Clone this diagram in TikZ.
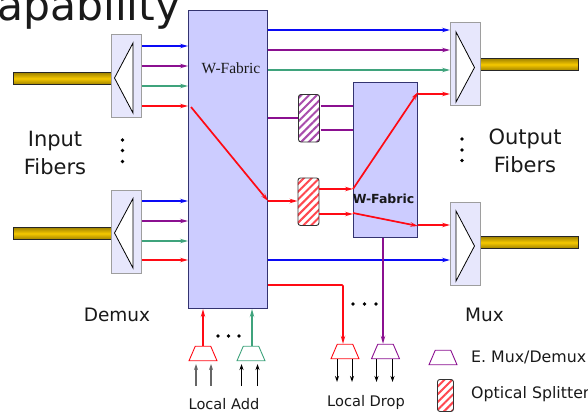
\documentclass[tikz,border=0pt]{standalone}
\usepackage{fontspec}
\setmainfont{DejaVu Sans}
\newfontfamily\serifface{Liberation Serif}
\usetikzlibrary{arrows.meta,patterns.meta,shapes.geometric,calc}
\definecolor{cblue}{HTML}{0A0AF5}
\definecolor{cpurp}{HTML}{8B1090}
\definecolor{cgreen}{HTML}{3FA37C}
\definecolor{cred}{HTML}{FF0A14}
\definecolor{fabfill}{HTML}{CCCCFF}
\definecolor{boxfill}{HTML}{E7E7FC}
\definecolor{gold}{HTML}{F5C800}
\newcommand{\fsz}[1]{\fontsize{#1}{#1}\selectfont}
\newcommand{\ph}{\phantom{\rule{3pt}{3pt}}}
\tikzset{
  x=1pt,y=-1pt,
  fabric/.style={draw=black!70!blue!80,fill=fabfill,line width=1.1pt,inner sep=0pt,anchor=north west},
  muxbox/.style={draw=black!38,fill=boxfill,line width=1.1pt,inner sep=0pt,anchor=north west,minimum width=30pt,minimum height=83pt},
  fiber/.style={draw=black!85,line width=0.9pt,top color=black!35!gold,bottom color=black!35!gold,middle color=gold,inner sep=0pt,anchor=north west,minimum width=98pt,minimum height=12pt},
  wedge/.style={draw=black,line width=0.8pt,fill=white,line join=miter},
  sig/.style={line width=1.7pt,-{Stealth[length=8pt,width=4.5pt,inset=3pt]}},
  plain/.style={line width=1.7pt},
  thin arrow/.style={black,line width=1pt,-{Stealth[length=6pt,width=4pt]}},
  trap/.style={trapezium,trapezium stretches=true,trapezium left angle=68,trapezium right angle=68,inner sep=0pt,minimum width=28pt,minimum height=14.5pt,line width=0.9pt,draw,anchor=center},
  split/.style={draw=black!80,rounded corners=2.5pt,line width=0.9pt,inner sep=0pt,anchor=north west,minimum width=21pt,minimum height=47.5pt,preaction={fill=white},
    pattern={Lines[angle=45,distance=5.5pt,line width=2pt]},pattern color=#1},
  dot/.style={circle,fill=black,inner sep=0pt,minimum size=3.6pt},
  lab/.style={text=black!90,inner sep=0pt},
}
\begin{document}
\begin{tikzpicture}
\useasboundingbox (0,0) rectangle (588,412);
\clip (0,0) rectangle (588,412);
% title
\node[lab,anchor=base west,font=\fsz{42.5}] (title) at (-3,21) {apability};
% fibers
\node[fiber] (fibA) at (13,72) {};
\node[fiber] (fibB) at (13,227) {};
\node[fiber] (fibC) at (480,58) {};
\node[fiber] (fibD) at (480,236) {};
% demux / mux
\node[muxbox] (dmA) at (111,34) {};
\node[muxbox] (dmB) at (111,189.5) {};
\node[muxbox] (mxA) at (450,22) {};
\node[muxbox] (mxB) at (450,201.5) {};
\draw[wedge] (133,43) -- (114.5,78) -- (133,113) -- cycle;
\draw[wedge] (133,198.5) -- (114.5,233) -- (133,268) -- cycle;
\draw[wedge] (456,32) -- (474.5,67.5) -- (456,102) -- cycle;
\draw[wedge] (456,211) -- (474.5,246) -- (456,281) -- cycle;
% fabrics
\node[fabric,minimum width=79pt,minimum height=298pt] (fabA) at (188,10) {};
\node[fabric,minimum width=64pt,minimum height=155pt] (fabB) at (353,82) {};
\node[font=\serifface\fsz{15.5},lab] (fabAt) at (231,68) {W-Fabric};
\node[font=\bfseries\fsz{12.5},lab] (fabBt) at (383.5,199) {W-Fabric};
% splitters
\node[split=cpurp!75] (spA) at (297.5,93.5) {};
\node[split=cred!75] (spB) at (297.5,177.5) {};
% inputs
\foreach \yy/\cc in {46/cblue,66/cpurp,86/cgreen,106/cred}
  \draw[sig,\cc] (dmA.east |- 0,\yy) -- (fabA.west |- 0,\yy);
\foreach \yy/\cc in {201/cblue,221/cpurp,241/cgreen,260/cred}
  \draw[sig,\cc] (dmB.east |- 0,\yy) -- (fabA.west |- 0,\yy);
% outputs of fabric A
\foreach \yy/\cc in {30/cblue,50/cpurp,70/cgreen,260/cblue}
  \draw[sig,\cc] (fabA.east |- 0,\yy) -- (mxA.west |- 0,\yy);
% splitter connections
\draw[plain,cpurp] (fabA.east |- 0,118) -- (spA.west |- 0,118);
\draw[plain,cpurp] (spA.east |- 0,106) -- (fabB.west |- 0,106);
\draw[plain,cpurp] (spA.east |- 0,130) -- (fabB.west |- 0,130);
\draw[sig,cred] (fabA.east |- 0,201) -- (spB.west |- 0,201);
\draw[sig,cred] (spB.east |- 0,189) -- (fabB.west |- 0,189);
\draw[sig,cred] (spB.east |- 0,214) -- (fabB.west |- 0,214);
% fabric crossings
\draw[sig,cred] (191,107) -- (fabA.east |- 0,201);
\draw[sig,cred] (fabB.west |- 0,189) -- (fabB.east |- 0,92);
\draw[sig,cred] (fabB.west |- 0,213) -- (fabB.east |- 0,226);
\draw[sig,cred] (fabB.east |- 0,94) -- (mxA.west |- 0,94);
\draw[sig,cred] (fabB.east |- 0,225) -- (mxA.west |- 0,225);
% local add
\node[trap,draw=cred] (addR) at (203,353.5) {\ph};
\node[trap,draw=cgreen] (addG) at (251,353.5) {\ph};
\draw[sig,cred] (addR.north -| 203,0) -- (203,0 |- fabA.south);
\draw[sig,cgreen] (addG.north -| 252,0) -- (252,0 |- fabA.south);
\coordinate (inA) at (196,386);
\coordinate (inB) at (211,386);
\coordinate (inC) at (241.5,386);
\coordinate (inD) at (257.5,386);
\draw[thin arrow,black!60,line width=1.5pt] (inA) -- (196,364);
\draw[thin arrow,black!60,line width=1.5pt] (inB) -- (211,364);
\draw[thin arrow] (inC) -- (241.5,364);
\draw[thin arrow] (inD) -- (257.5,364);
\node[dot] (d1) at (218,336) {}; \node[dot] (d2) at (228.5,336) {}; \node[dot] (d3) at (239,336) {};
% local drop
\node[trap,draw=cred] (drR) at (345,351.5) {\ph};
\node[trap,draw=cpurp] (drP) at (385.5,351.5) {\ph};
\draw[sig,cred,rounded corners=1pt] (fabA.east |- 0,285) -- (343,285) -- (343,0 |- drR.north);
\draw[sig,cpurp] (383,0 |- fabB.south) -- (383,0 |- drP.north);
\coordinate (outA) at (337,382);
\coordinate (outB) at (352,382);
\coordinate (outC) at (376.5,382);
\coordinate (outD) at (392.5,382);
\draw[thin arrow] (337,0 |- drR.south) -- (outA);
\draw[thin arrow] (352,0 |- drR.south) -- (outB);
\draw[thin arrow] (376.5,0 |- drP.south) -- (outC);
\draw[thin arrow] (392.5,0 |- drP.south) -- (outD);
\node[dot] (d4) at (353,304) {}; \node[dot] (d5) at (364.5,304) {}; \node[dot] (d6) at (376,304) {};
% vertical dots
\node[dot] (d7) at (122.5,140) {}; \node[dot] (d8) at (122.5,150.5) {}; \node[dot] (d9) at (122.5,161.5) {};
\node[dot] (d10) at (462,139) {}; \node[dot] (d11) at (462,150) {}; \node[dot] (d12) at (462,160.5) {};
% labels
\node[lab,font=\fsz{21}] (t1) at (55,141) {Input};
\node[lab,font=\fsz{21}] (t2) at (55,167) {Fibers};
\node[lab,font=\fsz{21}] (t3) at (525,139) {Output};
\node[lab,font=\fsz{21}] (t4) at (525,165) {Fibers};
\node[lab,font=\fsz{18.5}] (t5) at (117,315) {Demux};
\node[lab,font=\fsz{18.5}] (t6) at (484.5,315) {Mux};
\node[lab,font=\fsz{14.6}] (t7) at (224,404) {Local Add};
\node[lab,font=\fsz{14.6}] (t8) at (366,402) {Local Drop};
% legend
\node[trap,draw=cpurp] (legT) at (443,357.5) {\ph};
\node[split=cred!75,minimum width=16pt,minimum height=32pt] (legS) at (437,379) {};
\node[lab,anchor=west,font=\fsz{15.8}] (t9) at (471,357) {E. Mux/Demux};
\node[lab,anchor=west,font=\fsz{15.8}] (t10) at (471,394) {Optical Splitter};
\end{tikzpicture}
\end{document}
